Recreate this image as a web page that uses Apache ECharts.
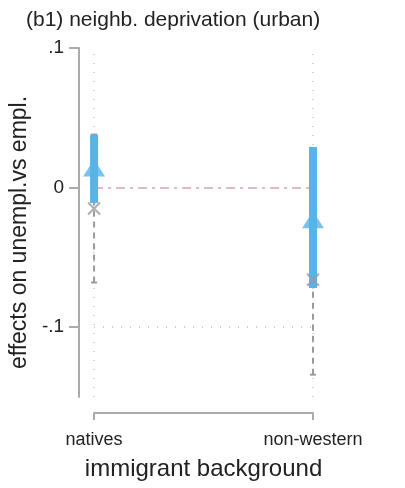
<!DOCTYPE html>
<html>
<head>
<meta charset="utf-8">
<script src="https://cdn.jsdelivr.net/npm/echarts@6/dist/echarts.min.js"></script>
<style>
  html, body { margin: 0; padding: 0; background: #fff; }
  #chart { width: 405px; height: 488px; }
</style>
</head>
<body>
<div id="chart"></div>
<script>
// data
const categories = ["natives", "non-western"];
const bluePoint = [0.014, -0.023];
const blueLo = [-0.011, -0.072];
const blueHi = [0.038, 0.029];
const grayPoint = [-0.015, -0.066];
const grayLo = [-0.068, -0.134];
const grayHi = [0.038, 0.002];
const yTicks = [-0.1, 0, 0.1];

const blue = "#56b4e9";
const gray = "#9a9a9a";
const font = "Liberation Sans";

function fmtY(v) {
  // stata style: .1, 0, -.1
  if (Math.abs(v) < 1e-9) return "0";
  return String(v).replace("0.", ".");
}

const chart = echarts.init(document.getElementById("chart"));

chart.setOption({
  animation: false,
  textStyle: { fontFamily: font },
  title: {
    text: "(b1) neighb. deprivation (urban)",
    left: 21,
    top: 5,
    textStyle: { fontSize: 21, fontWeight: "normal", color: "#222", fontFamily: font },
  },
  grid: { left: 93, right: 92, top: 48, bottom: 91 },
  xAxis: {
    type: "value",
    min: 0,
    max: 1,
    interval: 1,
    offset: 16,
    axisLine: { onZero: false, lineStyle: { color: "#aaa", width: 2 } },
    axisTick: { length: 7, lineStyle: { color: "#aaa", width: 2 } },
    axisLabel: {
      fontSize: 18,
      color: "#222",
      margin: 18,
      formatter: (v) => categories[v] || "",
    },
    splitLine: { show: false },
    name: "immigrant background",
    nameLocation: "middle",
    nameGap: 44,
    nameTextStyle: { fontSize: 24, color: "#222" },
  },
  yAxis: {
    type: "value",
    min: -0.15,
    max: 0.1,
    interval: 0.05,
    offset: 15,
    axisLine: { show: true, onZero: false, lineStyle: { color: "#aaa", width: 2 } },
    axisTick: { show: true, length: 10, customValues: yTicks, lineStyle: { color: "#aaa", width: 2 } },
    axisLabel: { fontSize: 19, color: "#222", margin: 15, customValues: yTicks, formatter: fmtY },
    splitLine: { show: false },
    name: "effects on unempl.vs empl.",
    nameLocation: "middle",
    nameGap: 48,
    nameTextStyle: { fontSize: 23, color: "#222", padding: [0, 20, 0, 0] },
  },
  series: [
    {
      // reference lines only, kept underneath everything
      type: "line",
      data: [],
      z: 1,
      markLine: {
        z: 1,
        silent: true,
        symbol: "none",
        label: { show: false },
        data: [
          { yAxis: 0, lineStyle: { color: "#d9a3ab", width: 1.5, type: [9, 5, 3, 5] } },
          { yAxis: -0.1, lineStyle: { color: "#cccccc", width: 2, type: [1, 8] } },
          { xAxis: 0, lineStyle: { color: "#d4d4d4", width: 2, type: [1, 8] } },
          { xAxis: 1, lineStyle: { color: "#d4d4d4", width: 2, type: [1, 8] } },
        ],
      },
    },
    {
      // gray dashed CI
      type: "custom",
      data: categories.map((c, i) => [i, grayLo[i], grayHi[i]]),
      renderItem: function (params, api) {
        const lo = api.coord([api.value(0), api.value(1)]);
        const hi = api.coord([api.value(0), api.value(2)]);
        const st = { stroke: gray, lineWidth: 2 };
        return {
          type: "group",
          children: [
            { type: "line", shape: { x1: lo[0], y1: lo[1], x2: hi[0], y2: hi[1] }, style: { stroke: gray, lineWidth: 2, lineDash: [6, 5] } },
            { type: "line", shape: { x1: lo[0] - 3, y1: lo[1], x2: lo[0] + 3, y2: lo[1] }, style: st },
            { type: "line", shape: { x1: hi[0] - 3, y1: hi[1], x2: hi[0] + 3, y2: hi[1] }, style: st },
          ],
        };
      },
      z: 2,
    },
    {
      // blue CI bar
      type: "custom",
      data: categories.map((c, i) => [i, blueLo[i], blueHi[i]]),
      renderItem: function (params, api) {
        const lo = api.coord([api.value(0), api.value(1)]);
        const hi = api.coord([api.value(0), api.value(2)]);
        return {
          type: "rect",
          shape: { x: lo[0] - 4, y: hi[1], width: 8, height: lo[1] - hi[1] },
          style: { fill: blue },
        };
      },
      z: 3,
    },
    {
      type: "scatter",
      data: categories.map((c, i) => [i, bluePoint[i]]),
      symbol: "triangle",
      symbolSize: [22, 17],
      itemStyle: { color: blue },
      z: 4,
    },
    {
      type: "scatter",
      data: categories.map((c, i) => [i, grayPoint[i]]),
      symbol: "path://M0,0L10,10M10,0L0,10",
      symbolSize: 12,
      itemStyle: { color: "none", borderColor: gray, borderWidth: 2 },
      z: 5,
    },
  ],
});
</script>
</body>
</html>
